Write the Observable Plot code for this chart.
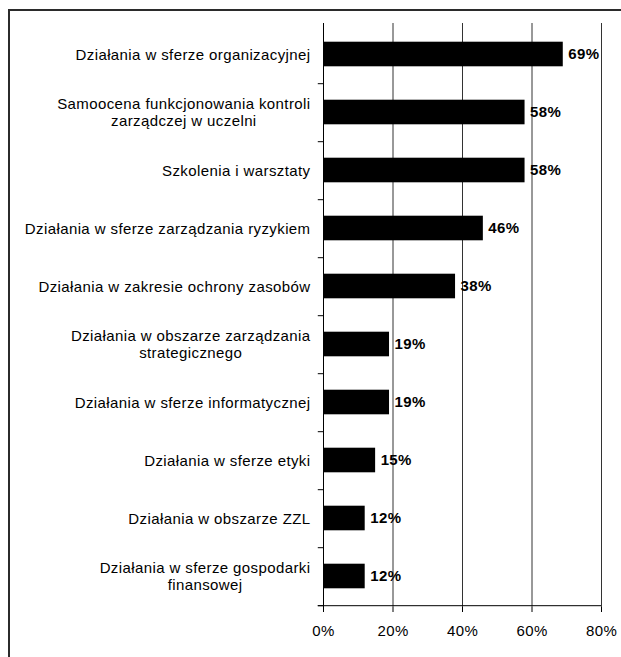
<!DOCTYPE html>
<html>
<head>
<meta charset="utf-8">
<script src="https://cdn.jsdelivr.net/npm/d3@7"></script>
<script src="https://cdn.jsdelivr.net/npm/@observablehq/plot@0.6"></script>
<style>
  html, body { margin: 0; padding: 0; background: #fff; }
  #wrap { position: relative; width: 621px; height: 657px; overflow: hidden; }
  #frame { position: absolute; left: 8px; top: 9px; width: 700px; height: 700px;
           border-left: 2px solid #2b2b2b; border-top: 2px solid #2b2b2b; pointer-events: none; }
  svg { display: block; }
</style>
</head>
<body>
<div id="wrap"><div id="frame"></div></div>
<script>
const categories = [
  "Działania w sferze organizacyjnej",
  "Samoocena funkcjonowania kontroli\nzarządczej w uczelni",
  "Szkolenia i warsztaty",
  "Działania w sferze zarządzania ryzykiem",
  "Działania w zakresie ochrony zasobów",
  "Działania w obszarze zarządzania\nstrategicznego",
  "Działania w sferze informatycznej",
  "Działania w sferze etyki",
  "Działania w obszarze ZZL",
  "Działania w sferze gospodarki\nfinansowej"
];
const values = [69, 58, 58, 46, 38, 19, 19, 15, 12, 12];
const xTicks = [0, 20, 40, 60, 80];

const data = categories.map((c, i) => ({category: c, value: values[i]}));

const W = 621, H = 657;
const mL = 323, mR = 20, mT = 23, mB = 50;
const bw = (H - mT - mB) / categories.length;
const barH = 25;
const inset = (bw - barH) / 2;
const LS = 0.4;
const FS = 15;
const FONT = FS + "px 'Liberation Sans', Arial, sans-serif";

const ctx = document.createElement("canvas").getContext("2d");
ctx.font = FONT;
function blockWidth(s) {
  return Math.max(...s.split("\n").map(l => ctx.measureText(l).width + LS * l.length));
}
const labelRight = 310;

const labelMarks = categories.map(c => {
  const w = blockWidth(c);
  const center = labelRight - w / 2;
  return Plot.text([c], {
    y: d => d, text: d => d, frameAnchor: "left", textAnchor: "middle",
    dx: center - mL, fontSize: FS, lineHeight: 1.13, fill: "#000"
  });
});

const chart = Plot.plot({
  width: W, height: H,
  marginLeft: mL, marginRight: mR, marginTop: mT, marginBottom: mB,
  style: {fontFamily: "'Liberation Sans', Arial, sans-serif", fontSize: FS + "px", letterSpacing: LS + "px", background: "transparent", color: "#000"},
  x: {domain: [0, 80]},
  y: {domain: categories, padding: 0, axis: null},
  marks: [
    Plot.gridX({ticks: xTicks.slice(1), stroke: "#333", strokeOpacity: 1, strokeWidth: 1}),
    Plot.barX(data, {x: "value", y: "category", fill: "#000", insetTop: inset, insetBottom: inset}),
    Plot.ruleX([0], {stroke: "#000", strokeWidth: 1}),
    Plot.ruleY(categories, {y: d => d, x1: -1.5, x2: 0, dy: bw / 2, stroke: "#000"}),
    Plot.ruleY([categories[categories.length - 1]], {y: d => d, x1: -1.5, x2: 80, dy: bw / 2, stroke: "#000"}),
    Plot.axisX({ticks: xTicks, tickFormat: d => d + "%", tickSize: 5, tickPadding: 13, fontSize: FS, label: null, stroke: "#000"}),
    Plot.text(data, {x: "value", y: "category", text: d => d.value + "%", textAnchor: "start", dx: 5, fontWeight: "bold", fontSize: FS, fill: "#000"}),
    ...labelMarks
  ]
});
document.getElementById("wrap").insertBefore(chart, document.getElementById("frame"));
</script>
</body>
</html>
